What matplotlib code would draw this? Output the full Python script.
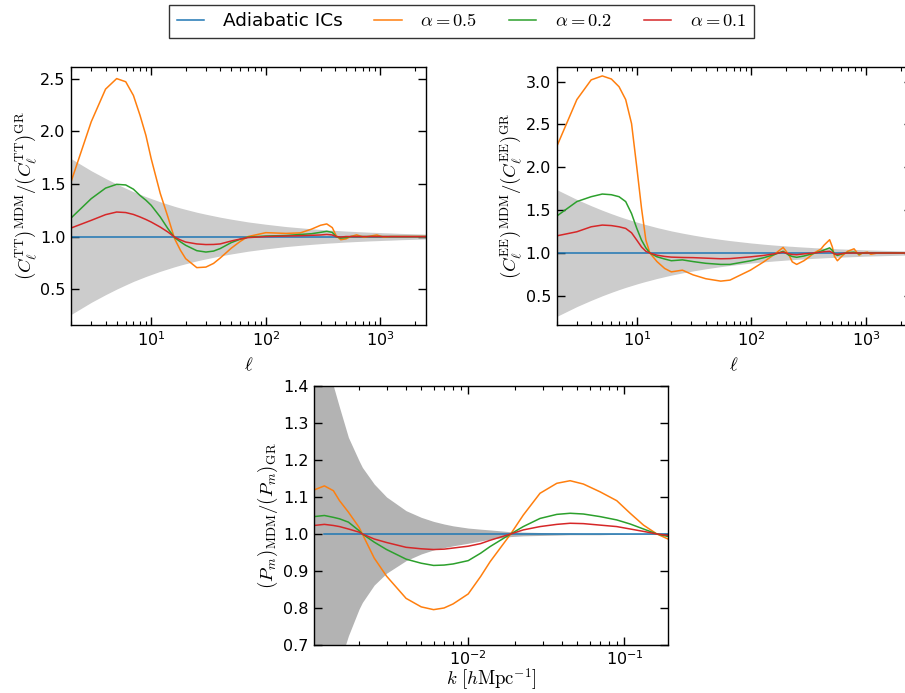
import numpy as np
import matplotlib
matplotlib.use('Agg')
import matplotlib.pyplot as plt
from matplotlib.ticker import LogLocator, MultipleLocator, NullFormatter

# ---------------- data: TT panel ----------------
tt_ell = [2, 3, 4, 5, 6, 7, 8, 9, 10, 12, 14, 16, 18, 20, 25, 30, 35, 40, 50, 60, 70,
          100, 150, 200, 250, 300, 340, 380, 410, 450, 500, 550, 620, 720, 820, 930,
          1070, 1230, 1500, 2000, 2500]
tt_adiabatic = [1.0] * len(tt_ell)
tt_a05 = [1.52, 2.09, 2.40, 2.50, 2.47, 2.34, 2.15, 1.96, 1.74, 1.41, 1.186, 0.98,
          0.87, 0.79, 0.705, 0.71, 0.745, 0.796, 0.89, 0.955, 1.0, 1.037, 1.03, 1.035,
          1.07, 1.107, 1.12, 1.085, 1.01, 0.97, 0.978, 1.0, 1.016, 0.993, 1.005,
          1.015, 0.994, 1.0, 1.0, 1.0, 1.0]
tt_a02 = [1.176, 1.36, 1.46, 1.496, 1.49, 1.45, 1.39, 1.345, 1.297, 1.186, 1.075,
          0.99, 0.95, 0.917, 0.866, 0.853, 0.862, 0.886, 0.943, 0.975, 0.995, 1.005,
          1.01, 1.02, 1.027, 1.04, 1.05, 1.04, 1.0, 0.985, 0.99, 1.0, 1.0, 1.0, 1.0,
          1.0, 1.0, 1.0, 1.0, 1.0, 1.0]
tt_a01 = [1.081, 1.154, 1.208, 1.233, 1.228, 1.21, 1.186, 1.162, 1.138, 1.09, 1.043,
          0.995, 0.968, 0.948, 0.93, 0.924, 0.925, 0.93, 0.958, 0.977, 0.99, 1.0,
          1.005, 1.008, 1.012, 1.015, 1.02, 1.015, 1.0, 0.995, 1.0, 1.0, 1.0, 1.0,
          1.0, 1.0, 1.0, 1.0, 1.0, 1.0, 1.0]
tt_band = [0.74, 0.625, 0.552, 0.499, 0.459, 0.426, 0.401, 0.379, 0.361, 0.33, 0.307,
           0.287, 0.271, 0.258, 0.231, 0.212, 0.197, 0.184, 0.165, 0.151, 0.139,
           0.117, 0.095, 0.083, 0.074, 0.0675, 0.063, 0.06, 0.058, 0.055, 0.052,
           0.05, 0.047, 0.044, 0.041, 0.039, 0.036, 0.034, 0.030, 0.026, 0.023]

# ---------------- data: EE panel ----------------
ee_ell = [2, 3, 4, 5, 6, 7, 8, 9, 10, 11, 12, 13, 15, 17.5, 20, 25, 31, 40, 54, 65,
          98, 128, 157, 189, 212, 227, 248, 287, 316, 351, 403, 429, 481, 508, 530,
          562, 622, 690, 785, 869, 929, 1028, 1100, 1259, 1500, 2000, 2500]
ee_adiabatic = [1.0] * len(ee_ell)
ee_a05 = [2.24, 2.79, 3.02, 3.066, 3.03, 2.94, 2.79, 2.51, 2.0, 1.52, 1.15, 1.0,
          0.90, 0.82, 0.78, 0.80, 0.745, 0.70, 0.672, 0.684, 0.80, 0.897, 0.98,
          1.065, 0.98, 0.897, 0.867, 0.91, 0.95, 1.0, 1.045, 1.09, 1.155, 1.07,
          0.96, 0.91, 0.97, 1.02, 1.049, 0.975, 1.0, 1.01, 0.985, 1.0, 1.0, 1.0, 1.0]
ee_a02 = [1.43, 1.60, 1.657, 1.688, 1.68, 1.657, 1.60, 1.46, 1.287, 1.15, 1.06, 1.0,
          0.956, 0.93, 0.91, 0.92, 0.90, 0.88, 0.867, 0.867, 0.909, 0.945, 0.98,
          1.02, 0.975, 0.96, 0.95, 0.965, 0.98, 0.995, 1.02, 1.035, 1.06, 1.03,
          0.99, 0.972, 0.99, 1.005, 1.01, 0.99, 1.0, 1.0, 1.0, 1.0, 1.0, 1.0, 1.0]
ee_a01 = [1.20, 1.248, 1.306, 1.326, 1.32, 1.306, 1.287, 1.236, 1.15, 1.07, 1.02, 1.0,
          0.975, 0.96, 0.952, 0.948, 0.946, 0.94, 0.933, 0.935, 0.955, 0.972, 0.99,
          1.01, 0.99, 0.983, 0.98, 0.99, 0.995, 1.0, 1.01, 1.015, 1.02, 1.005, 0.99,
          0.985, 0.995, 1.0, 1.0, 1.0, 1.0, 1.0, 1.0, 1.0, 1.0, 1.0, 1.0]
ee_band = [0.74, 0.625, 0.552, 0.499, 0.459, 0.427, 0.401, 0.380, 0.361, 0.345, 0.331,
           0.319, 0.297, 0.276, 0.258, 0.232, 0.209, 0.184, 0.159, 0.145, 0.118,
           0.103, 0.093, 0.085, 0.080, 0.078, 0.074, 0.069, 0.066, 0.062, 0.058,
           0.056, 0.053, 0.052, 0.051, 0.049, 0.047, 0.045, 0.042, 0.040, 0.038,
           0.036, 0.035, 0.033, 0.030, 0.026, 0.023]

# ---------------- data: matter power spectrum panel ----------------
pk_k = [1.03e-3, 1.2e-3, 1.37e-3, 1.5e-3, 1.71e-3, 2.0e-3, 2.1e-3, 2.5e-3, 3.0e-3,
        4.0e-3, 5.0e-3, 6.0e-3, 7.0e-3, 8.0e-3, 1.0e-2, 1.2e-2, 1.38e-2, 1.87e-2,
        2.25e-2, 2.88e-2, 3.69e-2, 4.49e-2, 5.46e-2, 6.98e-2, 8.93e-2, 0.1088,
        0.1324, 0.1614, 0.191]
pk_adiabatic = [np.nan, 1.0, 1.0, 1.0, 1.0, 1.0, 1.0, 1.0, 1.0, 1.0, 1.0, 1.0, 1.0,
                1.0, 1.0, 1.0, 1.0, 1.0, 1.0, 1.0, 1.0, 1.0, 1.0, 1.0, 1.0, 1.0,
                1.0, 1.0, 1.0]
pk_a05 = [1.119, 1.130, 1.117, 1.09, 1.059, 1.018, 1.0, 0.935, 0.886, 0.826, 0.803,
          0.7955, 0.80, 0.811, 0.838, 0.885, 0.925, 1.0, 1.051, 1.110, 1.137, 1.144,
          1.135, 1.114, 1.09, 1.056, 1.024, 1.0, 0.986]
pk_a02 = [1.047, 1.050, 1.045, 1.041, 1.032, 1.009, 1.0, 0.978, 0.958, 0.932, 0.921,
          0.915, 0.916, 0.919, 0.928, 0.948, 0.966, 1.0, 1.020, 1.042, 1.053, 1.056,
          1.054, 1.047, 1.038, 1.027, 1.0135, 1.0, 0.993]
pk_a01 = [1.023, 1.026, 1.023, 1.02, 1.0135, 1.005, 1.0, 0.9865, 0.977, 0.964, 0.96,
          0.958, 0.959, 0.962, 0.967, 0.974, 0.983, 1.0, 1.011, 1.020, 1.026, 1.029,
          1.028, 1.024, 1.02, 1.0135, 1.007, 1.0, 0.996]
pk_band_upper = [1.75, 1.55, 1.40, 1.342, 1.261, 1.198, 1.18, 1.135, 1.100, 1.063,
                 1.045, 1.034, 1.027, 1.022, 1.016, 1.013, 1.011, 1.006, 1.005,
                 1.004, 1.003, 1.003, 1.002, 1.002, 1.002, 1.001, 1.001, 1.001, 1.001]
pk_band_lower = [0.30, 0.45, 0.58, 0.65, 0.725, 0.797, 0.815, 0.862, 0.894, 0.928,
                 0.946, 0.957, 0.963, 0.968, 0.975, 0.981, 0.986, 0.993, 0.995,
                 0.996, 0.997, 0.998, 0.998, 0.998, 0.999, 0.999, 0.999, 0.999, 0.999]

labels = ['Adiabatic ICs', r'$\alpha=0.5$', r'$\alpha=0.2$', r'$\alpha=0.1$']
colors = ['#1f77b4', '#ff7f0e', '#2ca02c', '#d62728']

plt.rcParams.update({
    'font.family': ['DejaVu Sans'],
    'mathtext.fontset': 'dejavusans',
    'xtick.direction': 'in', 'ytick.direction': 'in',
    'xtick.top': True, 'ytick.right': True,
    'xtick.major.size': 6, 'ytick.major.size': 6,
    'xtick.minor.size': 3, 'ytick.minor.size': 3,
    'xtick.major.width': 1.0, 'ytick.major.width': 1.0,
    'xtick.minor.width': 0.8, 'ytick.minor.width': 0.8,
    'xtick.major.pad': 4, 'ytick.major.pad': 4,
    'xtick.labelsize': 11.5, 'ytick.labelsize': 11.5,
    'axes.linewidth': 1.0,
})

fig = plt.figure(figsize=(9.05, 6.93), dpi=100)
ax1 = fig.add_axes([0.0785, 0.531, 0.3923, 0.3723])
ax2 = fig.add_axes([0.6151, 0.531, 0.3923, 0.3723])
ax3 = fig.add_axes([0.347, 0.0693, 0.3915, 0.3737])

def panel(ax, x, lower, upper, series, band_color):
    x = np.asarray(x, dtype=float)
    ax.fill_between(x, upper, lower, color=band_color, linewidth=0, zorder=1)
    handles = []
    for s, c, lab in zip(series, colors, labels):
        h, = ax.plot(x, s, color=c, lw=1.1, label=lab, zorder=2)
        handles.append(h)
    ax.set_xscale('log')
    ax.xaxis.set_minor_locator(LogLocator(base=10, subs=np.arange(2, 10)))
    ax.xaxis.set_minor_formatter(NullFormatter())
    return handles

tt_b = np.asarray(tt_band)
ee_b = np.asarray(ee_band)
handles = panel(ax1, tt_ell, 1 - tt_b, 1 + tt_b,
                [tt_adiabatic, tt_a05, tt_a02, tt_a01], '0.8')
panel(ax2, ee_ell, 1 - ee_b, 1 + ee_b,
      [ee_adiabatic, ee_a05, ee_a02, ee_a01], '0.8')
panel(ax3, pk_k, pk_band_lower, pk_band_upper,
      [pk_adiabatic, pk_a05, pk_a02, pk_a01], '0.7')

ax1.set_xlim(2, 2500)
ax1.set_ylim(0.16, 2.61)
ax1.yaxis.set_major_locator(MultipleLocator(0.5))
ax2.set_xlim(2, 2500)
ax2.set_ylim(0.16, 3.17)
ax2.yaxis.set_major_locator(MultipleLocator(0.5))
ax3.set_xlim(1.03e-3, 0.191)
ax3.set_ylim(0.7, 1.4)
ax3.yaxis.set_major_locator(MultipleLocator(0.1))
ax3.tick_params(axis='x', which='major', pad=3)

lab_fs = 13.5
ax1.set_xlabel(r'$\ell$', fontsize=lab_fs, math_fontfamily='cm')
ax1.set_ylabel(r'$(C_\ell^{\rm TT})^{\rm MDM}/(C_\ell^{\rm TT})^{\rm GR}$',
               fontsize=lab_fs, math_fontfamily='cm', labelpad=1)
ax2.set_xlabel(r'$\ell$', fontsize=lab_fs, math_fontfamily='cm')
ax2.set_ylabel(r'$(C_\ell^{\rm EE})^{\rm MDM}/(C_\ell^{\rm EE})^{\rm GR}$',
               fontsize=lab_fs, math_fontfamily='cm', labelpad=1)
ax3.set_xlabel(r'$k\ [h{\rm Mpc}^{-1}]$', fontsize=lab_fs, math_fontfamily='cm',
               labelpad=-1)
ax3.set_ylabel(r'$(P_m)_{\rm MDM}/(P_m)_{\rm GR}$', fontsize=lab_fs,
               math_fontfamily='cm', labelpad=2)

leg = fig.legend(handles, labels, loc='upper center', ncol=4,
                 bbox_to_anchor=(0.51, 0.993), fontsize=13.3, frameon=True,
                 fancybox=False, edgecolor='black', handlelength=1.5,
                 handletextpad=1.0, columnspacing=1.7, borderpad=0.4,
                 borderaxespad=0)
leg.get_frame().set_linewidth(1.0)
for t in leg.get_texts():
    t.set_math_fontfamily('cm')

fig.savefig('out.png', dpi=100)
